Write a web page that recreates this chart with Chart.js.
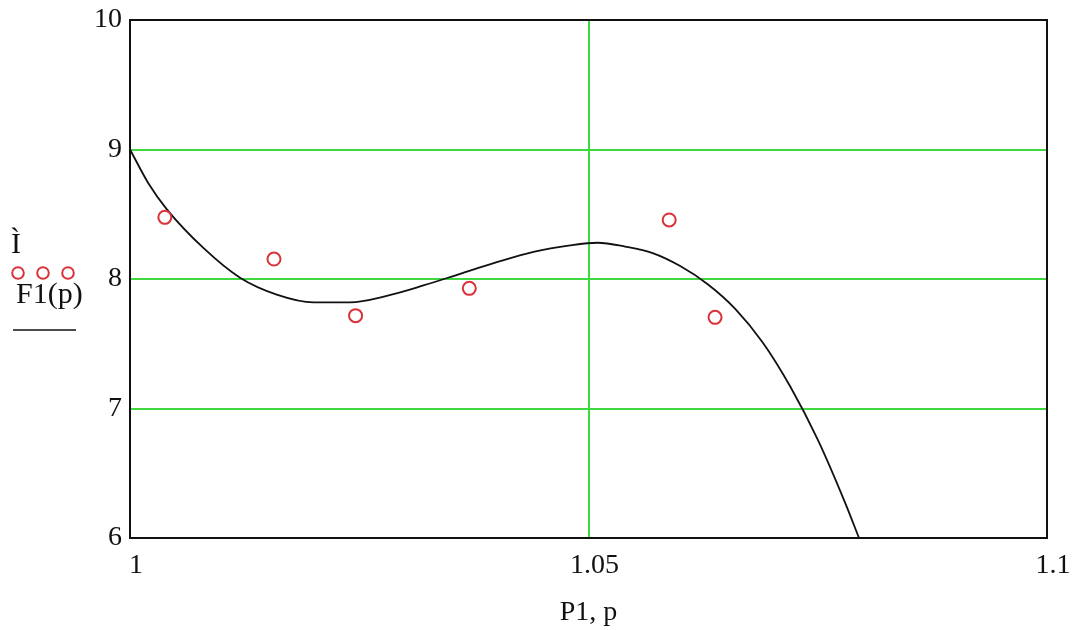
<!DOCTYPE html>
<html>
<head>
<meta charset="utf-8">
<script src="https://cdn.jsdelivr.net/npm/chart.js@4/dist/chart.umd.min.js"></script>
<style>
  html, body { margin: 0; padding: 0; background: #fff; }
  #wrap { width: 1079px; height: 630px; position: relative; }
</style>
</head>
<body>
<div id="wrap"><canvas id="chart" width="1079" height="630"></canvas></div>
<script>
// measured points (red circles)
const pointsX = [1.0038, 1.0157, 1.0246, 1.0370, 1.0588, 1.0638];
const pointsY = [8.476, 8.154, 7.717, 7.928, 8.456, 7.704];

// fitted curve F1(p)
const curveX = [1.0000, 1.0020, 1.0040, 1.0080, 1.0120, 1.0160, 1.0200, 1.0240, 1.0280, 1.0320,
                1.0360, 1.0400, 1.0440, 1.0480, 1.0510, 1.0540, 1.0570, 1.0600, 1.0630, 1.0660,
                1.0690, 1.0720, 1.0750, 1.0780, 1.0795];
const curveY = [9.00, 8.74, 8.54, 8.24, 8.01, 7.88, 7.82, 7.82, 7.87, 7.95,
                8.04, 8.13, 8.21, 8.26, 8.28, 8.25, 8.20, 8.10, 7.96, 7.77,
                7.51, 7.17, 6.76, 6.27, 6.00];

const xTicks = [1, 1.05, 1.1];
const yTicks = [6, 7, 8, 9, 10];

const FONT = '"Liberation Serif", "Times New Roman", serif';
const GREEN = '#3fd93f';
const RED = '#d8323a';

const framePlugin = {
  id: 'frame',
  afterDraw(chart) {
    const ctx = chart.ctx;
    const a = chart.chartArea;
    ctx.save();
    ctx.strokeStyle = '#111';
    ctx.lineWidth = 2;
    ctx.strokeRect(a.left, a.top, a.right - a.left, a.bottom - a.top);

    // y-axis legend on the left
    ctx.fillStyle = '#111';
    ctx.font = '30px ' + FONT;
    ctx.textBaseline = 'alphabetic';
    ctx.textAlign = 'left';
    ctx.fillText('Ì', 11, 253);
    ctx.strokeStyle = RED;
    ctx.lineWidth = 2;
    [18, 43, 68].forEach(cx => {
      ctx.beginPath();
      ctx.arc(cx, 273, 5.8, 0, Math.PI * 2);
      ctx.stroke();
    });
    ctx.fillStyle = '#111';
    ctx.fillText('F1(p)', 16, 303);
    ctx.strokeStyle = '#111';
    ctx.lineWidth = 1.5;
    ctx.beginPath();
    ctx.moveTo(13, 330);
    ctx.lineTo(76, 330);
    ctx.stroke();
    ctx.restore();
  }
};

new Chart(document.getElementById('chart'), {
  type: 'scatter',
  data: {
    datasets: [
      {
        label: 'F1(p)',
        type: 'line',
        data: curveX.map((x, i) => ({ x: x, y: curveY[i] })),
        borderColor: '#111',
        borderWidth: 1.8,
        pointRadius: 0,
        fill: false,
        cubicInterpolationMode: 'monotone',
        order: 2
      },
      {
        label: 'Ì',
        data: pointsX.map((x, i) => ({ x: x, y: pointsY[i] })),
        showLine: false,
        pointStyle: 'circle',
        pointRadius: 6.5,
        pointBorderWidth: 2,
        pointBorderColor: RED,
        pointBackgroundColor: 'rgba(0,0,0,0)',
        order: 1
      }
    ]
  },
  options: {
    responsive: false,
    animation: false,
    clip: true,
    layout: { padding: { left: 0, top: 20, right: 32, bottom: 0 } },
    plugins: {
      legend: { display: false },
      tooltip: { enabled: false }
    },
    scales: {
      x: {
        type: 'linear',
        min: 1,
        max: 1.1,
        afterFit: s => { s.height = 92; s.paddingLeft = 0; s.paddingRight = 0; },
        afterBuildTicks: s => { s.ticks = xTicks.map(v => ({ value: v })); },
        ticks: {
          font: { family: FONT, size: 28 },
          color: '#111',
          padding: 11,
          labelOffset: 6,
          maxRotation: 0,
          callback: v => String(v)
        },
        grid: {
          drawTicks: false,
          lineWidth: 2,
          color: c => (c.tick && c.tick.value > 1 && c.tick.value < 1.1) ? GREEN : 'rgba(0,0,0,0)'
        },
        border: { display: false },
        title: {
          display: true,
          text: 'P1, p',
          font: { family: FONT, size: 28 },
          color: '#111',
          padding: { top: 0, bottom: 1 }
        }
      },
      y: {
        type: 'linear',
        min: 6,
        max: 10,
        afterFit: s => { s.width = 130; s.paddingTop = 0; s.paddingBottom = 0; },
        afterBuildTicks: s => { s.ticks = yTicks.map(v => ({ value: v })); },
        ticks: {
          font: { family: FONT, size: 28 },
          color: '#111',
          padding: 8,
          callback: v => String(v)
        },
        grid: {
          drawTicks: false,
          lineWidth: 2,
          color: c => (c.tick && c.tick.value > 6 && c.tick.value < 10) ? GREEN : 'rgba(0,0,0,0)'
        },
        border: { display: false }
      }
    }
  },
  plugins: [framePlugin]
});
</script>
</body>
</html>
